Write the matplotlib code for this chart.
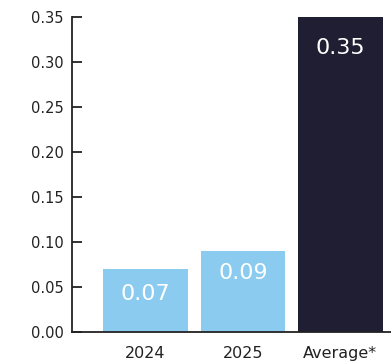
import matplotlib
matplotlib.use("Agg")
import matplotlib.pyplot as plt

categories = ["2024", "2025", "Average*"]
values = [0.07, 0.09, 0.35]
labels = ["0.07", "0.09", "0.35"]
colors = ["#8BCBF0", "#8BCBF0", "#201E33"]
yticks = [0.00, 0.05, 0.10, 0.15, 0.20, 0.25, 0.30, 0.35]

plt.rcParams['font.family'] = ['DejaVu Sans']

fig = plt.figure(figsize=(3.91, 3.63), dpi=100)
ax = fig.add_axes([72/391, 31/363, 1 - 72/391, (332-17)/363])

x = list(range(len(categories)))
bars = ax.bar(x, values, width=0.87, color=colors)
ax.set_xlim(-0.754, 2.52)
ax.set_ylim(0, 0.35)
ax.set_yticks(yticks)
ax.set_yticklabels([f"{v:.2f}" for v in yticks], fontsize=10.5, color="#222222")
ax.set_xticks(x)
ax.set_xticklabels(categories, fontsize=11.5, color="#222222")
ax.tick_params(axis='y', direction='in', length=7, width=1.3, color="#222222", pad=6)
ax.tick_params(axis='x', length=0, pad=10)
for s in ['top', 'right']:
    ax.spines[s].set_visible(False)
for s in ['left', 'bottom']:
    ax.spines[s].set_linewidth(1.3)
    ax.spines[s].set_color("#222222")

offsets = [-25, -22, -31]
for b, lab, off in zip(bars, labels, offsets):
    ax.annotate(lab, (b.get_x() + b.get_width()/2, b.get_height()),
                xytext=(0, off*0.72), textcoords='offset points',
                ha='center', va='center', color='white', fontsize=16)

fig.savefig("out.png", dpi=100)
